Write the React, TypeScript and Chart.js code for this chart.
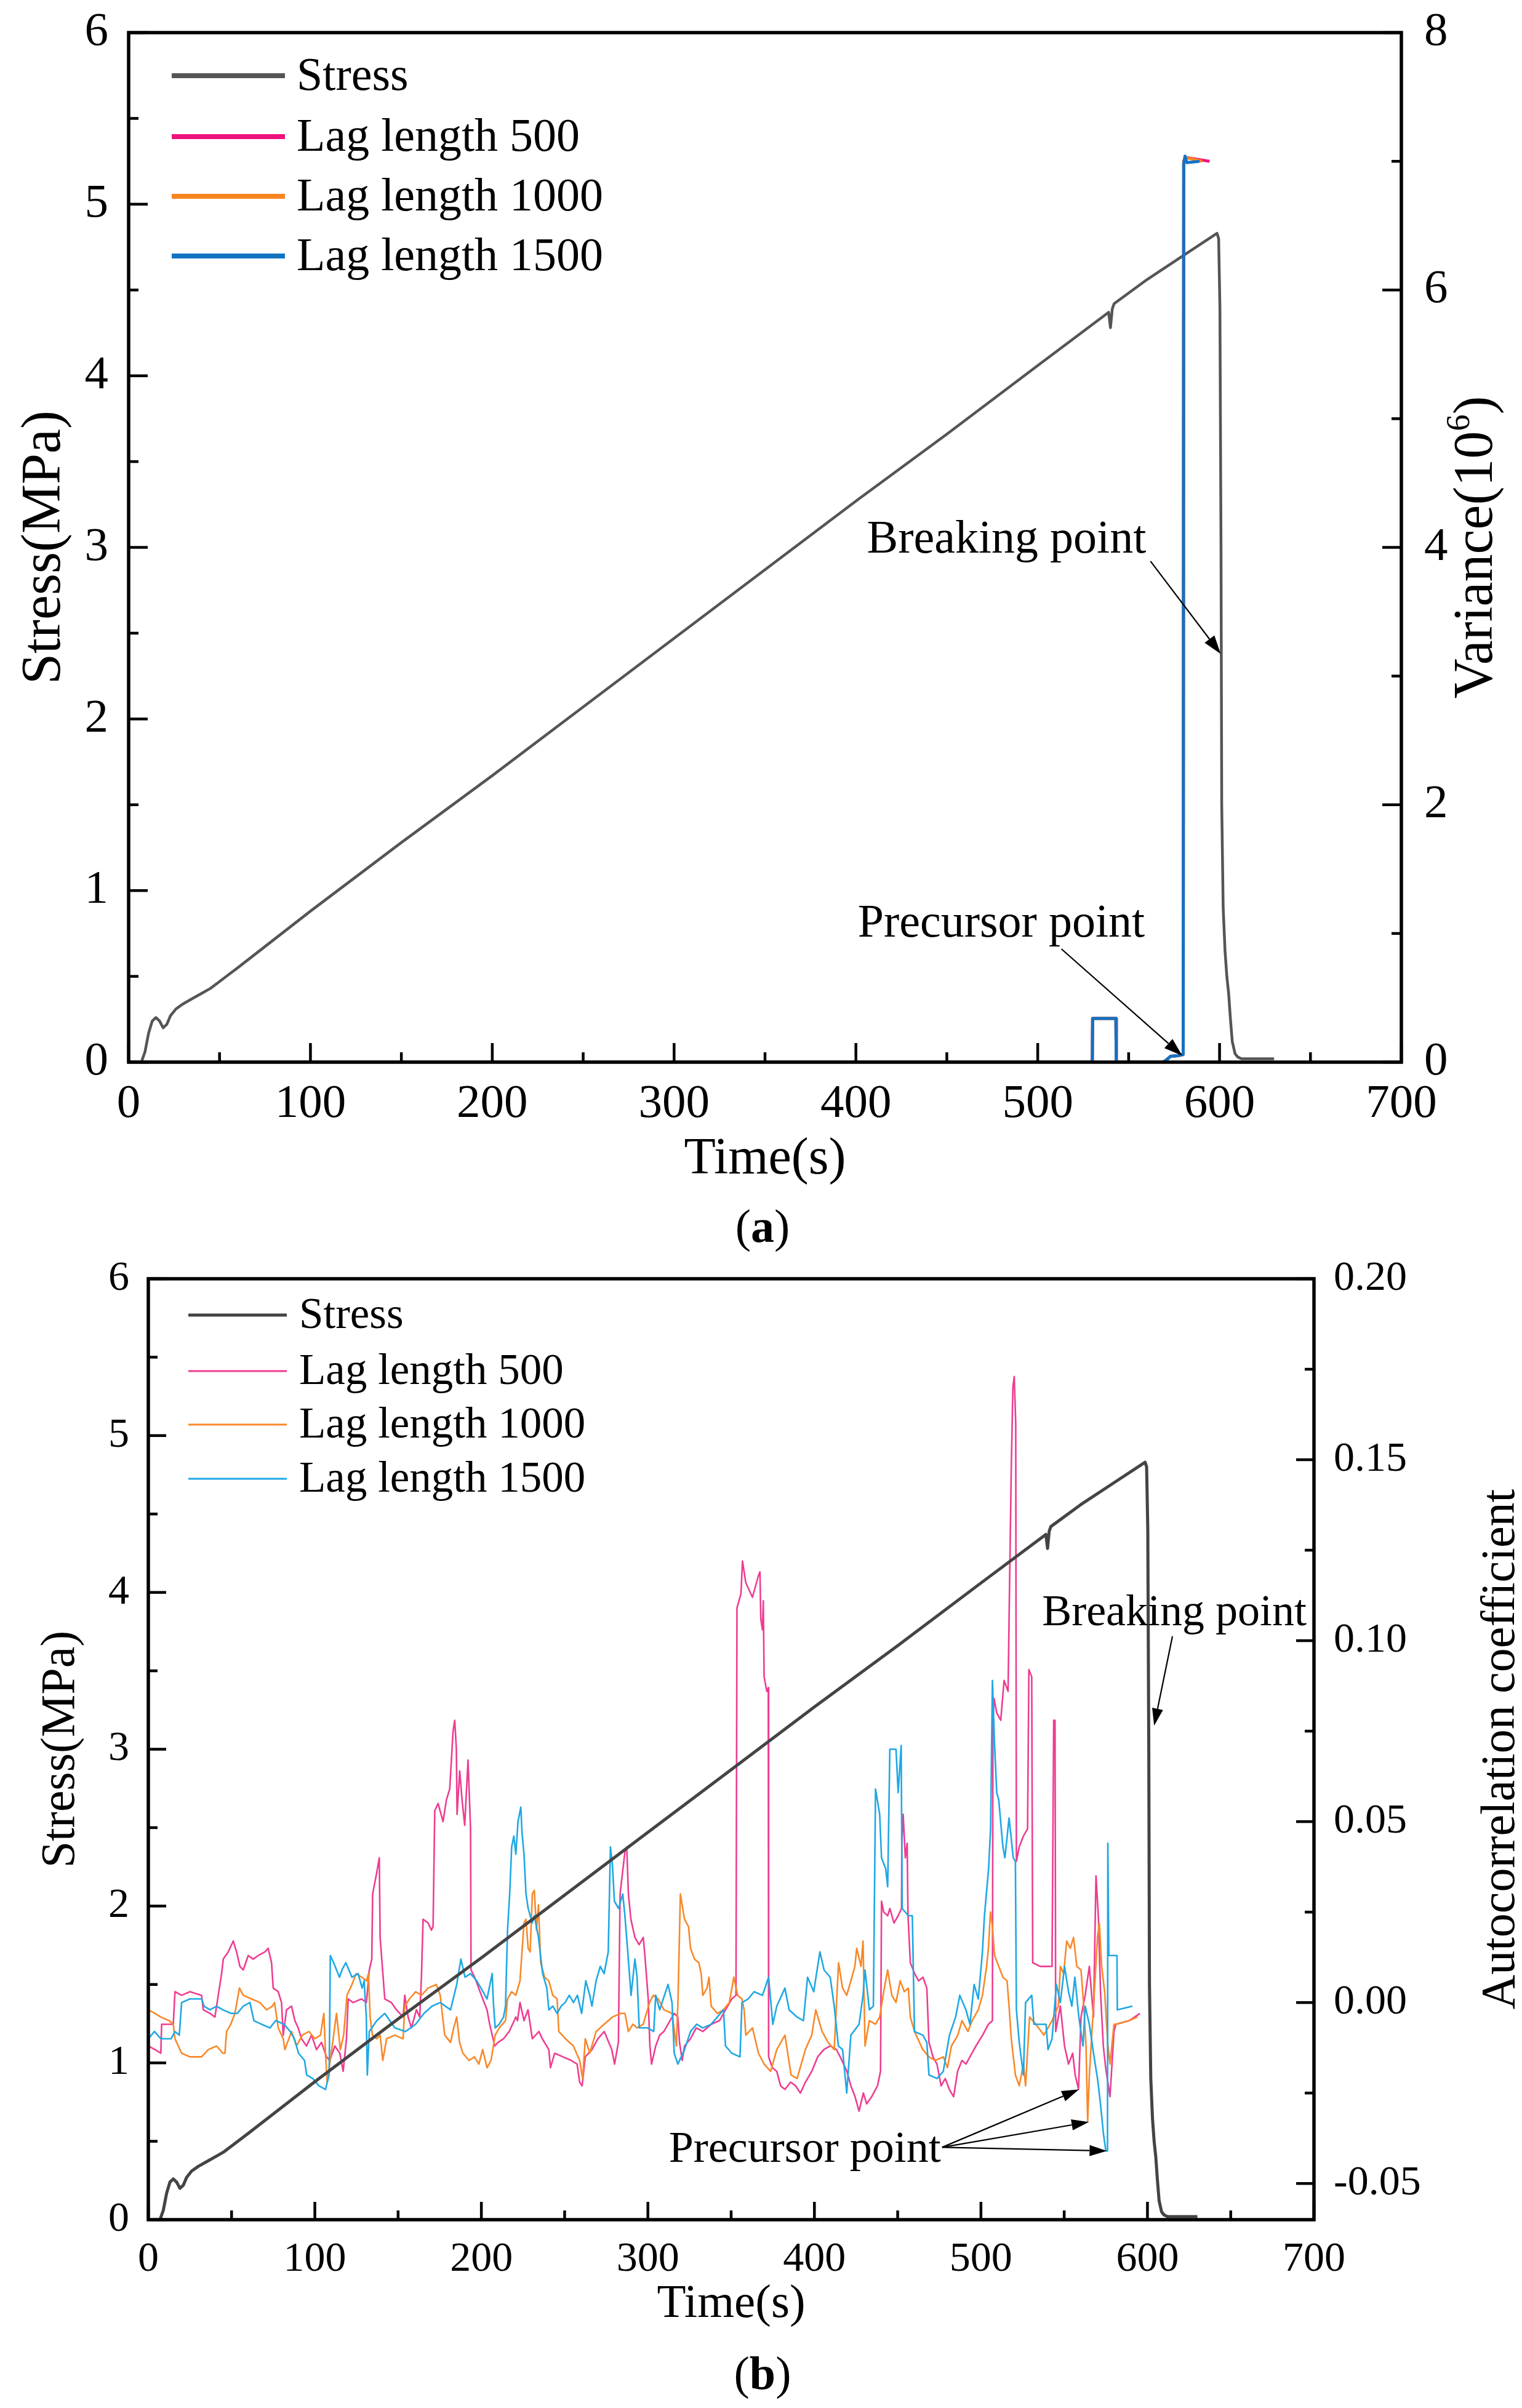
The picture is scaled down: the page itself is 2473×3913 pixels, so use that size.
import React, { useEffect, useRef } from "react";
import { Chart, registerables } from "chart.js";

Chart.register(...registerables);

const SERIF = '"Liberation Serif", "Times New Roman", Times, serif';

type Pt = [number, number];

// ---------------- data ----------------
const seriesNames = ["Stress", "Lag length 500", "Lag length 1000", "Lag length 1500"];

const timeTicks = [0, 100, 200, 300, 400, 500, 600, 700];
const timeMinorTicks = [50, 150, 250, 350, 450, 550, 650];
const stressTicks = [0, 1, 2, 3, 4, 5, 6];
const stressMinorTicks = [0.5, 1.5, 2.5, 3.5, 4.5, 5.5];
const varianceTicks = [0, 2, 4, 6, 8];
const varianceMinorTicks = [1, 3, 5, 7];
const acfTicks = [-0.05, 0, 0.05, 0.1, 0.15, 0.2];
const acfMinorTicks = [-0.025, 0.025, 0.075, 0.125, 0.175];

const stressCurve: Pt[] = [
  [7, 0], [9, 0.06], [11, 0.17], [13, 0.24], [15, 0.26], [17, 0.24], [19, 0.2], [21, 0.22], [23, 0.27],
  [26, 0.31], [30, 0.34], [35, 0.37], [40, 0.4], [45, 0.43], [50, 0.47], [55, 0.51], [60, 0.55],
  [100, 0.88], [150, 1.28], [200, 1.67], [250, 2.07], [300, 2.47], [350, 2.87], [400, 3.27], [450, 3.66],
  [500, 4.06], [539, 4.37], [540, 4.28], [541, 4.39], [542, 4.42], [560, 4.56], [580, 4.7], [598.6, 4.83],
  [599.5, 4.8], [600.2, 4.4], [600.8, 3.0], [601.2, 1.5], [602, 0.9], [603, 0.65], [604, 0.5], [605, 0.4],
  [606, 0.25], [607, 0.12], [608.5, 0.05], [610, 0.03], [612, 0.02], [630, 0.02],
];

const lag500Variance: Pt[] = [
  [0, 0], [530, 0], [530.2, 0.34], [543, 0.34], [543.2, 0], [569, 0], [571, 0.02], [573, 0.045],
  [577, 0.05], [580, 0.06], [580.3, 7.0], [581.5, 7.03], [594.5, 7.0],
];
const lag1000Variance: Pt[] = [
  [0, 0], [530, 0], [530.2, 0.34], [543, 0.34], [543.2, 0], [569, 0], [571, 0.02], [573, 0.045],
  [577, 0.05], [580, 0.06], [580.3, 7.0], [581.5, 7.03], [590.5, 7.0],
];
const lag1500Variance: Pt[] = [
  [0, 0], [530, 0], [530.2, 0.34], [543, 0.34], [543.2, 0], [569, 0], [571, 0.02], [573, 0.045],
  [577, 0.05], [580, 0.06], [580.3, 6.98], [581, 7.04], [582, 6.99], [589, 7.0],
];

const lag500Acf: Pt[] = [
  [0, -0.012], [4, -0.013], [7.5, -0.014], [8, -0.006], [15, -0.006], [16, 0.003], [20, 0.002], [25, 0.003],
  [32, 0.002], [33, -0.002], [37, -0.003], [40, -0.004], [41, -0.001], [44, 0.008], [45, 0.012], [48, 0.014],
  [51, 0.017], [53, 0.014], [55, 0.01], [57, 0.009], [60, 0.013], [63, 0.012], [66, 0.013], [70, 0.014],
  [72, 0.015], [74, 0.011], [75, 0.004], [78, 0.003], [80, 0.0], [81, -0.009], [83, -0.002], [86, -0.001],
  [88, -0.005], [90, -0.007], [92, -0.01], [95, -0.012], [98, -0.009], [101, -0.013], [104, -0.011],
  [107, -0.015], [109, -0.016], [112, -0.012], [115, -0.014], [117, -0.019], [119, -0.01], [120, 0.001],
  [123, 0.0], [128, 0.001], [131, 0.0], [132.7, 0.009], [134.2, 0.012], [134.7, 0.03], [137.2, 0.036],
  [138.7, 0.04], [139.2, 0.018], [142, 0.001], [146, 0.0], [149, -0.002], [153, -0.004], [154, 0.002],
  [156, -0.004], [158, -0.007], [161, -0.002], [163, -0.004], [164, 0.007], [165, 0.023], [168, 0.022],
  [170, 0.02], [171, 0.021], [172, 0.053], [174, 0.055], [177, 0.05], [179, 0.056], [181, 0.059], [183, 0.075],
  [184, 0.078], [185, 0.07], [185.4, 0.052], [187, 0.064], [188.4, 0.056], [190, 0.049], [192, 0.067],
  [193.5, 0.048], [193.8, 0.009], [196, 0.007], [200, 0.002], [203.4, -0.002], [205, -0.006], [208, -0.012],
  [210, -0.011], [213.3, -0.01], [216.7, -0.008], [220.7, -0.004], [221.7, -0.005], [223.2, 0.0],
  [225.6, -0.005], [228, -0.002], [230.6, -0.01], [234.6, -0.008], [236.6, -0.01], [240.5, -0.013],
  [241.5, -0.018], [244, -0.014], [249, -0.015], [254, -0.016], [257.5, -0.017], [259, -0.022],
  [260.5, -0.023], [262.4, -0.015], [266.4, -0.013], [270, -0.01], [273.8, -0.008], [278.3, -0.013],
  [280, -0.017], [282.3, -0.011], [283.3, 0.03], [284.8, 0.036], [286.3, 0.042], [287.3, 0.043],
  [288.3, 0.03], [289.8, 0.023], [292.2, 0.018], [294.7, 0.016], [297.2, 0.018], [298.2, 0.013],
  [300.2, 0.001], [301.2, -0.012], [302.2, -0.017], [304.7, -0.012], [307.1, -0.009], [309.6, -0.008],
  [312.1, -0.006], [315.8, -0.003], [318, -0.004], [319, -0.011], [320.6, -0.016], [322, -0.012],
  [325.6, -0.01], [329, -0.007], [333, -0.008], [338, -0.006], [343, -0.005], [345.4, -0.003],
  [350.4, 0.001], [352.9, 0.002], [353.5, 0.109], [355.9, 0.113], [356.8, 0.122], [358.8, 0.116],
  [362.8, 0.112], [366.4, 0.118], [367.3, 0.119], [367.8, 0.106], [368.8, 0.103], [369.3, 0.111],
  [369.8, 0.09], [371.4, 0.086], [372.3, 0.087], [372.5, -0.015], [374.7, -0.018], [377.4, -0.019],
  [379.7, -0.023], [382.3, -0.024], [385.7, -0.022], [388.7, -0.023], [391.6, -0.025], [394.6, -0.022],
  [398.4, -0.019], [402, -0.015], [405.6, -0.013], [409.5, -0.012], [413.2, -0.013], [415.5, -0.015],
  [419.5, -0.019], [421.9, -0.023], [424.4, -0.026], [426.8, -0.03], [429.4, -0.025], [431.4, -0.028],
  [434.4, -0.026], [437.9, -0.023], [439.7, -0.019], [440.3, 0.028], [441.6, 0.025], [444, 0.024],
  [445.3, 0.026], [447.8, 0.022], [450.3, 0.024], [452.3, 0.026], [452.5, 0.044], [453.3, 0.052],
  [454.6, 0.04], [455.7, 0.044], [456.2, 0.024], [457.6, 0.011], [460.2, 0.008], [462.6, 0.006],
  [465.2, 0.007], [467.5, 0.004], [468.8, -0.011], [471.2, -0.015], [473.6, -0.017], [476.1, -0.023],
  [478.6, -0.021], [481, -0.024], [483.6, -0.026], [486, -0.019], [488.6, -0.016], [491, -0.017],
  [493.4, -0.015], [497, -0.012], [501, -0.009], [504.5, -0.006], [506.9, -0.005], [507.2, 0.078],
  [507.9, 0.084], [509.5, 0.08], [511.9, 0.078], [513.9, 0.089], [516.3, 0.086], [516.9, 0.106],
  [518.2, 0.147], [519.2, 0.17], [520, 0.173], [520.9, 0.16], [521.3, 0.039], [523, 0.043], [525.5, 0.046],
  [528, 0.048], [528.8, 0.092], [530.5, 0.09], [531.1, 0.011], [535.6, 0.01], [542.7, 0.01], [543.7, 0.078],
  [544.5, 0.078], [544.9, -0.008], [547.7, -0.001], [550.2, -0.012], [552.6, -0.017], [555.1, -0.014],
  [556.6, -0.02], [558.6, -0.024], [560.1, -0.004], [562.6, 0.002], [565.1, 0.01], [567.6, -0.004],
  [569.1, 0.035], [570.5, 0.024], [571.8, 0.003], [573.5, -0.012], [574.9, -0.018], [577.5, -0.026],
  [579.9, -0.008], [581.1, -0.006], [589, -0.005], [595.5, -0.003],
];

const lag1000Acf: Pt[] = [
  [0, -0.002], [4, -0.003], [7.5, -0.004], [12.4, -0.005], [15, -0.006], [16, -0.01], [20, -0.014],
  [25, -0.015], [32, -0.015], [36, -0.013], [41, -0.012], [44.7, -0.014], [46, -0.014], [47, -0.008],
  [49.5, -0.006], [52, -0.003], [54.7, 0.004], [57, 0.002], [62, 0.001], [67, 0.0], [71, -0.002],
  [74.5, -0.001], [75.8, 0.0], [78, -0.007], [81, -0.01], [82, -0.013], [86, -0.008], [89, -0.012],
  [92.5, -0.009], [96.5, -0.008], [100, -0.01], [103.4, -0.009], [105.4, -0.003], [106.4, -0.014],
  [107.4, -0.022], [111.3, -0.009], [113, -0.003], [115.3, -0.013], [117.3, -0.009], [119.3, 0.002],
  [122.3, 0.005], [124.8, 0.008], [128.2, 0.007], [131, 0.006], [132.2, 0.008], [133.2, -0.004],
  [134.6, -0.009], [137.2, -0.01], [139.2, -0.009], [140.8, -0.016], [143.1, -0.01], [148, -0.009],
  [153, -0.01], [154, -0.001], [156.8, 0.001], [160.5, 0.003], [164, 0.002], [168, 0.004], [173, 0.005],
  [175.3, 0.002], [176.5, -0.003], [178, -0.009], [181.5, -0.011], [183.4, -0.007], [185.2, -0.004],
  [186.9, -0.011], [188.9, -0.014], [192.6, -0.016], [195.8, -0.015], [198.5, -0.017], [200.8, -0.013],
  [203.4, -0.018], [205.8, -0.016], [208.3, -0.009], [210.7, -0.007], [214.5, -0.005], [215.7, 0.001],
  [218.2, 0.003], [220.7, 0.002], [223.2, 0.006], [225.6, 0.022], [226.8, 0.023], [228.1, 0.015],
  [229.3, 0.014], [230.6, 0.03], [231.8, 0.031], [233.1, 0.02], [234.3, 0.027], [235.6, 0.011],
  [238, 0.007], [240.5, 0.006], [242.9, 0.002], [245.5, 0.001], [246.5, -0.008], [250.5, -0.01],
  [255.3, -0.012], [259, -0.016], [260.8, -0.021], [262.4, -0.01], [265.1, -0.014], [268.9, -0.008],
  [273.7, -0.006], [278.7, -0.004], [283.7, -0.003], [286.2, -0.003], [288.3, -0.008], [291, -0.006],
  [293.5, -0.007], [297.2, -0.006], [301, 0.0], [303.2, 0.002], [306.2, 0.001], [309.6, -0.002],
  [314.5, -0.003], [317.1, -0.012], [318.1, 0.001], [319.5, 0.03], [322, 0.023], [324.4, 0.021],
  [325.6, 0.015], [328, 0.012], [330.6, 0.011], [332, 0.008], [333, 0.002], [335.5, 0.004], [336.7, 0.007],
  [338, -0.001], [341.7, -0.003], [345.4, -0.002], [348.9, 0.0], [351.6, 0.007], [353.9, 0.002],
  [356.5, 0.001], [357.8, -0.002], [358.8, -0.009], [362.8, -0.007], [366.4, -0.014], [369.8, -0.017],
  [373.7, -0.019], [377.4, -0.013], [382.3, -0.009], [386, -0.02], [389.6, -0.021], [394.6, -0.013],
  [398.4, -0.009], [400.8, -0.002], [404.6, -0.008], [408.2, -0.011], [411.9, -0.013], [413.2, -0.001],
  [414.5, 0.011], [416.9, 0.004], [419.4, 0.002], [421.9, 0.006], [424.3, 0.01], [425.4, 0.015],
  [428, 0.01], [429.2, 0.017], [430.4, -0.012], [433, -0.005], [436.7, -0.006], [439.2, -0.004],
  [441.6, 0.003], [444, 0.009], [446.5, 0.002], [449, 0.0], [451.5, 0.006], [454, 0.003], [456.4, 0.004],
  [457.6, -0.004], [460.1, -0.008], [465.1, -0.013], [468.8, -0.015], [472.4, -0.016], [477.4, -0.015],
  [479.9, -0.018], [482.3, -0.012], [486.1, -0.009], [488.6, -0.005], [492.2, -0.008], [494.7, -0.005],
  [498.4, -0.002], [500.9, 0.002], [503.4, 0.01], [504.5, 0.015], [505.7, 0.025], [506.9, 0.021],
  [508.2, 0.013], [510.7, 0.01], [513.2, 0.007], [515.7, 0.006], [516.9, -0.001], [518.2, -0.01],
  [520.7, -0.02], [523, -0.023], [525.5, -0.017], [526.8, -0.023], [529.2, -0.004], [533, -0.006],
  [537.8, -0.009], [542.7, -0.005], [546.5, -0.001], [547.7, 0.01], [549.7, 0.008], [551.5, 0.017],
  [553.7, 0.015], [555.6, 0.018], [557.6, 0.01], [560.1, 0.009], [561.9, -0.002], [563.1, -0.012],
  [564.1, -0.033], [565.1, -0.02], [567.6, -0.001], [570, 0.018], [571.1, 0.022], [572.5, 0.01],
  [574.3, 0.003], [576.1, -0.011], [577.5, -0.017], [579.9, -0.006], [581.1, -0.006], [589, -0.005],
  [594, -0.004],
];

const lag1500Acf: Pt[] = [
  [0, -0.01], [3.7, -0.008], [7.5, -0.01], [13.7, -0.01], [16, -0.008], [18.6, -0.009], [20, 0.0],
  [25, 0.001], [32, 0.001], [33.5, -0.001], [37, -0.002], [41, -0.001], [44.7, -0.002], [49.7, -0.003],
  [53.4, -0.003], [57, -0.001], [61, 0.0], [63.4, -0.005], [68, -0.006], [73, -0.007], [76.5, -0.005],
  [81.5, -0.006], [85.2, -0.008], [87.7, -0.01], [90.2, -0.014], [93.8, -0.016], [95.1, -0.02],
  [98.8, -0.021], [102.4, -0.023], [106.4, -0.024], [108.6, -0.02], [109.3, 0.013], [111.3, 0.011],
  [114.8, 0.007], [116.3, 0.009], [118.6, 0.011], [122.3, 0.007], [126, 0.008], [128.4, 0.004],
  [129.6, 0.006], [130.9, -0.004], [131.5, -0.02], [132.7, -0.008], [137.2, -0.005], [142, -0.003],
  [148, -0.007], [154.4, -0.008], [160.5, -0.006], [165.5, -0.003], [170.4, -0.001], [175.3, 0.0],
  [181.5, -0.002], [185.2, 0.005], [187.7, 0.012], [190.2, 0.007], [193.5, 0.008], [197.2, 0.006],
  [199.8, 0.004], [203.4, 0.001], [206.5, 0.008], [207.2, 0.0], [208.3, -0.007], [210.7, -0.006],
  [213.3, -0.004], [214.5, -0.001], [215.7, 0.02], [217, 0.03], [218.2, 0.043], [219.5, 0.046],
  [220.7, 0.041], [222, 0.05], [223.7, 0.054], [224.4, 0.047], [225.6, 0.041], [226.8, 0.03],
  [228.1, 0.026], [230.6, 0.022], [231.8, 0.024], [234.3, 0.018], [236.8, 0.008], [239.3, 0.004],
  [240.5, -0.002], [242.9, -0.001], [245.5, -0.003], [247.9, -0.001], [250.3, 0.0], [252.8, 0.002],
  [255.3, 0.0], [257.7, 0.002], [260.2, -0.003], [262.7, 0.006], [265.1, 0.002], [266.4, -0.001],
  [268.9, 0.006], [271.4, 0.01], [273.7, 0.008], [276.2, 0.014], [277.5, 0.043], [278.7, 0.038],
  [279.9, 0.028], [282.4, 0.026], [284.9, 0.03], [286.2, 0.024], [287.4, 0.017], [289.9, 0.002],
  [292.2, 0.012], [293.5, 0.007], [294.8, -0.007], [299.7, -0.007], [303.5, -0.008], [304.7, 0.002],
  [307.1, -0.002], [312.1, 0.005], [314.5, 0.0], [315.8, -0.014], [318, -0.017], [322, -0.013],
  [325.6, -0.008], [329.3, -0.006], [333, -0.007], [338, -0.006], [341.7, -0.004], [345.4, -0.002],
  [346.6, -0.012], [350.4, -0.014], [355.3, -0.015], [356.5, 0.0], [360.2, 0.001], [363.8, 0.003],
  [368.8, 0.002], [372.5, 0.007], [375, -0.006], [377.4, -0.001], [382.3, 0.004], [384.8, -0.002],
  [389.6, -0.004], [393.4, -0.005], [395.9, 0.007], [399.6, 0.003], [403.3, 0.014], [405.8, 0.009],
  [409.5, 0.007], [411.9, -0.001], [414.4, -0.012], [416.9, -0.013], [419.4, -0.025], [421.9, -0.009],
  [426.8, -0.006], [429.2, 0.002], [430.4, 0.009], [433, -0.002], [435.4, -0.001], [436.7, 0.059],
  [439.2, 0.052], [440.3, 0.04], [442.8, 0.037], [444, 0.032], [445.3, 0.07], [449, 0.07], [450.3, 0.058],
  [452.1, 0.071], [452.7, 0.026], [456.4, 0.024], [458.8, 0.024], [460.1, -0.008], [465.1, -0.009],
  [467.5, -0.011], [468.8, -0.02], [473.6, -0.021], [477.4, -0.019], [481.1, -0.009], [484.8, -0.004],
  [487.3, 0.002], [491, -0.002], [493.4, -0.006], [495.9, 0.005], [498.4, 0.001], [500.9, 0.014],
  [502.1, 0.024], [504.6, 0.037], [505.8, 0.048], [506.9, 0.089], [508.2, 0.071], [509.5, 0.058],
  [510.7, 0.056], [513.2, 0.043], [514.4, 0.04], [516.9, 0.051], [519.4, 0.04], [520.7, 0.039],
  [521.3, -0.002], [523, -0.011], [525.5, -0.02], [526.8, 0.0], [530.5, 0.002], [531.8, -0.006],
  [539.1, -0.006], [540.3, -0.013], [542.7, -0.01], [545.3, 0.005], [547.7, 0.0], [550.2, 0.01],
  [552.6, 0.003], [554.6, -0.001], [556.4, 0.007], [558.8, -0.004], [561.3, -0.012], [562.6, -0.001],
  [565.1, -0.006], [567.6, -0.014], [570, -0.021], [571.8, -0.028], [573.5, -0.036], [575, -0.041],
  [576, -0.041], [576.2, 0.044], [576.8, 0.013], [581.7, 0.013], [581.9, -0.002], [591, -0.001],
];

// ---------------- helpers ----------------
const xy = (pts: Pt[]) => pts.map(([x, y]) => ({ x, y }));
const setTicks = (values: number[]) => (scale: any) => {
  scale.ticks = values.map((v) => ({ value: v }));
};
const fixBox = (dim: "width" | "height", size: number) => (s: any) => {
  s[dim] = size;
  s.paddingTop = 0;
  s.paddingBottom = 0;
  s.paddingLeft = 0;
  s.paddingRight = 0;
};

type TickSpec = { axis: string; side: "left" | "right" | "bottom"; major: number[]; minor: number[] };
type Note = { text: string; x: number; y: number; axis: string };
type Arrow = { x1: number; y1: number; a1: string; x2: number; y2: number; a2: string };
type Part = { t: string; k: number; raise: number };

type Decor = {
  id: string;
  frameWidth: number;
  tickWidth: number;
  majorLen: number;
  minorLen: number;
  ticks: TickSpec[];
  legend: {
    lineFrom: number;
    lineTo: number;
    textAt: number;
    rows: number[];
    fontSize: number;
    items: { label: string; color: string; width: number }[];
  };
  rightTitle: { parts: Part[]; x: number; fontSize: number };
  notes: Note[];
  noteSize: number;
  arrows: Arrow[];
  arrowWidth: number;
  headLen: number;
  headHalf: number;
  panel: { letter: string; x: number; y: number; fontSize: number };
};

function drawArrow(ctx: CanvasRenderingContext2D, x1: number, y1: number, x2: number, y2: number, lw: number, hl: number, hw: number) {
  const a = Math.atan2(y2 - y1, x2 - x1);
  const bx = x2 - hl * Math.cos(a);
  const by = y2 - hl * Math.sin(a);
  ctx.lineWidth = lw;
  ctx.beginPath();
  ctx.moveTo(x1, y1);
  ctx.lineTo(bx, by);
  ctx.stroke();
  ctx.beginPath();
  ctx.moveTo(x2, y2);
  ctx.lineTo(bx + hw * Math.sin(a), by - hw * Math.cos(a));
  ctx.lineTo(bx - hw * Math.sin(a), by + hw * Math.cos(a));
  ctx.closePath();
  ctx.fill();
}

function decorPlugin(d: Decor) {
  return {
    id: d.id,
    afterDraw(chart: any) {
      const { ctx, chartArea: ca, scales } = chart;
      ctx.save();
      ctx.strokeStyle = "#000";
      ctx.fillStyle = "#000";

      // inward ticks
      ctx.lineWidth = d.tickWidth;
      ctx.lineCap = "butt";
      for (const t of d.ticks) {
        const sc = scales[t.axis];
        const one = (v: number, len: number) => {
          const p = sc.getPixelForValue(v);
          ctx.beginPath();
          if (t.side === "bottom") {
            ctx.moveTo(p, ca.bottom);
            ctx.lineTo(p, ca.bottom - len);
          } else if (t.side === "left") {
            ctx.moveTo(ca.left, p);
            ctx.lineTo(ca.left + len, p);
          } else {
            ctx.moveTo(ca.right, p);
            ctx.lineTo(ca.right - len, p);
          }
          ctx.stroke();
        };
        t.major.forEach((v) => one(v, d.majorLen));
        t.minor.forEach((v) => one(v, d.minorLen));
      }

      // frame
      ctx.lineWidth = d.frameWidth;
      ctx.lineJoin = "miter";
      ctx.strokeRect(ca.left, ca.top, ca.right - ca.left, ca.bottom - ca.top);

      // legend
      const lg = d.legend;
      ctx.font = `${lg.fontSize}px ${SERIF}`;
      ctx.textAlign = "left";
      ctx.textBaseline = "middle";
      lg.items.forEach((it, i) => {
        const y = ca.top + lg.rows[i];
        ctx.strokeStyle = it.color;
        ctx.lineWidth = it.width;
        ctx.beginPath();
        ctx.moveTo(ca.left + lg.lineFrom, y);
        ctx.lineTo(ca.left + lg.lineTo, y);
        ctx.stroke();
        ctx.fillStyle = "#000";
        ctx.fillText(it.label, ca.left + lg.textAt, y + lg.fontSize * 0.04);
      });
      ctx.strokeStyle = "#000";
      ctx.fillStyle = "#000";

      // right axis title (reads bottom to top)
      const rt = d.rightTitle;
      const widths = rt.parts.map((p) => {
        ctx.font = `${rt.fontSize * p.k}px ${SERIF}`;
        return ctx.measureText(p.t).width;
      });
      const total = widths.reduce((s, w) => s + w, 0);
      ctx.save();
      ctx.translate(rt.x, (ca.top + ca.bottom) / 2);
      ctx.rotate(-Math.PI / 2);
      ctx.textBaseline = "middle";
      ctx.textAlign = "left";
      let cx = -total / 2;
      rt.parts.forEach((p, i) => {
        ctx.font = `${rt.fontSize * p.k}px ${SERIF}`;
        ctx.fillText(p.t, cx, -p.raise * rt.fontSize);
        cx += widths[i];
      });
      ctx.restore();

      // annotations
      ctx.font = `${d.noteSize}px ${SERIF}`;
      ctx.textAlign = "left";
      ctx.textBaseline = "alphabetic";
      for (const n of d.notes) {
        ctx.fillText(n.text, scales.x.getPixelForValue(n.x), scales[n.axis].getPixelForValue(n.y));
      }
      for (const a of d.arrows) {
        drawArrow(
          ctx,
          scales.x.getPixelForValue(a.x1),
          scales[a.a1].getPixelForValue(a.y1),
          scales.x.getPixelForValue(a.x2),
          scales[a.a2].getPixelForValue(a.y2),
          d.arrowWidth,
          d.headLen,
          d.headHalf
        );
      }

      // panel letter "(a)" / "(b)"
      const pn = d.panel;
      const reg = `${pn.fontSize}px ${SERIF}`;
      const bold = `bold ${pn.fontSize}px ${SERIF}`;
      ctx.font = reg;
      const wl = ctx.measureText("(").width;
      const wr = ctx.measureText(")").width;
      ctx.font = bold;
      const wm = ctx.measureText(pn.letter).width;
      let px = pn.x - (wl + wm + wr) / 2;
      ctx.textBaseline = "middle";
      ctx.font = reg;
      ctx.fillText("(", px, pn.y);
      px += wl;
      ctx.font = bold;
      ctx.fillText(pn.letter, px, pn.y);
      px += wm;
      ctx.font = reg;
      ctx.fillText(")", px, pn.y);

      ctx.restore();
    },
  };
}

const GRAY_A = "#555555";
const PINK_A = "#F0127C";
const ORANGE_A = "#F7841F";
const BLUE_A = "#1372C4";
const GRAY_B = "#444444";
const PINK_B = "#EE3D91";
const ORANGE_B = "#F8892A";
const BLUE_B = "#1FA8E4";

function lineSet(label: string, pts: Pt[], axis: string, color: string, width: number, order: number) {
  return {
    label,
    data: xy(pts),
    yAxisID: axis,
    borderColor: color,
    backgroundColor: color,
    borderWidth: width,
    pointRadius: 0,
    tension: 0,
    fill: false,
    order,
    borderJoinStyle: "round",
  };
}

function tickFont(size: number) {
  return { family: SERIF, size, weight: "normal" };
}

function buildConfigA(): any {
  return {
    type: "line",
    data: {
      datasets: [
        lineSet(seriesNames[0], stressCurve, "y", GRAY_A, 4.5, 3),
        lineSet(seriesNames[1], lag500Variance, "y2", PINK_A, 5, 2),
        lineSet(seriesNames[2], lag1000Variance, "y2", ORANGE_A, 5, 1),
        lineSet(seriesNames[3], lag1500Variance, "y2", BLUE_A, 5, 0),
      ],
    },
    options: {
      responsive: false,
      animation: false,
      devicePixelRatio: 1,
      events: [],
      layout: { padding: { top: 53, bottom: 94, left: 0, right: 0 } },
      plugins: { legend: { display: false }, tooltip: { enabled: false } },
      scales: {
        x: {
          type: "linear",
          position: "bottom",
          min: 0,
          max: 700,
          afterBuildTicks: setTicks(timeTicks),
          afterFit: fixBox("height", 230),
          grid: { display: false, drawTicks: false },
          border: { display: false },
          ticks: { color: "#000", font: tickFont(77), padding: 23, maxRotation: 0, minRotation: 0, autoSkip: false },
          title: { display: true, text: "Time(s)", color: "#000", font: tickFont(84), padding: { top: 0, bottom: 21 } },
        },
        y: {
          type: "linear",
          position: "left",
          min: 0,
          max: 6,
          afterBuildTicks: setTicks(stressTicks),
          afterFit: fixBox("width", 209),
          grid: { display: false, drawTicks: false },
          border: { display: false },
          ticks: { color: "#000", font: tickFont(77), padding: 33, autoSkip: false },
          title: { display: true, text: "Stress(MPa)", color: "#000", font: tickFont(90), padding: { top: 19, bottom: 0 } },
        },
        y2: {
          type: "linear",
          position: "right",
          min: 0,
          max: 8,
          afterBuildTicks: setTicks(varianceTicks),
          afterFit: fixBox("width", 196),
          grid: { display: false, drawTicks: false },
          border: { display: false },
          ticks: { color: "#000", font: tickFont(77), padding: 37, autoSkip: false },
          title: { display: false },
        },
      },
    },
    plugins: [
      decorPlugin({
        id: "decorA",
        frameWidth: 5.5,
        tickWidth: 4.5,
        majorLen: 31,
        minorLen: 16,
        ticks: [
          { axis: "x", side: "bottom", major: timeTicks, minor: timeMinorTicks },
          { axis: "y", side: "left", major: stressTicks, minor: stressMinorTicks },
          { axis: "y2", side: "right", major: varianceTicks, minor: varianceMinorTicks },
        ],
        legend: {
          lineFrom: 70,
          lineTo: 254,
          textAt: 273,
          rows: [70, 169, 266, 363],
          fontSize: 76,
          items: [
            { label: seriesNames[0], color: GRAY_A, width: 8 },
            { label: seriesNames[1], color: PINK_A, width: 8 },
            { label: seriesNames[2], color: ORANGE_A, width: 8 },
            { label: seriesNames[3], color: BLUE_A, width: 8 },
          ],
        },
        rightTitle: {
          parts: [
            { t: "Variance(10", k: 1, raise: 0 },
            { t: "6", k: 0.6, raise: 0.3 },
            { t: ")", k: 1, raise: 0 },
          ],
          x: 2400,
          fontSize: 90,
        },
        notes: [
          { text: "Breaking point", x: 406, y: 2.97, axis: "y" },
          { text: "Precursor point", x: 401, y: 0.73, axis: "y" },
        ],
        noteSize: 76,
        arrows: [
          { x1: 562, y1: 2.92, a1: "y", x2: 600.6, y2: 2.38, a2: "y" },
          { x1: 513, y1: 0.66, a1: "y", x2: 579.5, y2: 0.05, a2: "y2" },
        ],
        arrowWidth: 2.2,
        headLen: 30,
        headHalf: 10,
        panel: { letter: "a", x: 1239, y: 1998, fontSize: 76 },
      }),
    ],
  };
}

function buildConfigB(): any {
  return {
    type: "line",
    data: {
      datasets: [
        lineSet(seriesNames[0], stressCurve, "y", GRAY_B, 5, 0),
        lineSet(seriesNames[1], lag500Acf, "y2", PINK_B, 2.6, 3),
        lineSet(seriesNames[2], lag1000Acf, "y2", ORANGE_B, 2.6, 2),
        lineSet(seriesNames[3], lag1500Acf, "y2", BLUE_B, 2.6, 1),
      ],
    },
    options: {
      responsive: false,
      animation: false,
      devicePixelRatio: 1,
      events: [],
      layout: { padding: { top: 28, bottom: 106, left: 0, right: 0 } },
      plugins: { legend: { display: false }, tooltip: { enabled: false } },
      scales: {
        x: {
          type: "linear",
          position: "bottom",
          min: 0,
          max: 700,
          afterBuildTicks: setTicks(timeTicks),
          afterFit: fixBox("height", 200),
          grid: { display: false, drawTicks: false },
          border: { display: false },
          ticks: { color: "#000", font: tickFont(68), padding: 24, maxRotation: 0, minRotation: 0, autoSkip: false },
          title: { display: true, text: "Time(s)", color: "#000", font: tickFont(77), padding: { top: 0, bottom: 16 } },
        },
        y: {
          type: "linear",
          position: "left",
          min: 0,
          max: 6,
          afterBuildTicks: setTicks(stressTicks),
          afterFit: fixBox("width", 241),
          grid: { display: false, drawTicks: false },
          border: { display: false },
          ticks: { color: "#000", font: tickFont(68), padding: 31, autoSkip: false },
          title: { display: true, text: "Stress(MPa)", color: "#000", font: tickFont(78), padding: { top: 53, bottom: 0 } },
        },
        y2: {
          type: "linear",
          position: "right",
          min: -0.06,
          max: 0.2,
          afterBuildTicks: setTicks(acfTicks),
          afterFit: fixBox("width", 338),
          grid: { display: false, drawTicks: false },
          border: { display: false },
          ticks: {
            color: "#000",
            font: tickFont(68),
            padding: 32,
            autoSkip: false,
            callback: (v: number) => v.toFixed(2),
          },
          title: { display: false },
        },
      },
    },
    plugins: [
      decorPlugin({
        id: "decorB",
        frameWidth: 5.5,
        tickWidth: 4.5,
        majorLen: 29,
        minorLen: 15,
        ticks: [
          { axis: "x", side: "bottom", major: timeTicks, minor: timeMinorTicks },
          { axis: "y", side: "left", major: stressTicks, minor: stressMinorTicks },
          { axis: "y2", side: "right", major: acfTicks, minor: acfMinorTicks },
        ],
        legend: {
          lineFrom: 65,
          lineTo: 225,
          textAt: 245,
          rows: [59, 150, 237, 325],
          fontSize: 71,
          items: [
            { label: seriesNames[0], color: GRAY_B, width: 5 },
            { label: seriesNames[1], color: PINK_B, width: 3 },
            { label: seriesNames[2], color: ORANGE_B, width: 3 },
            { label: seriesNames[3], color: BLUE_B, width: 3 },
          ],
        },
        rightTitle: {
          parts: [{ t: "Autocorrelation coefficient", k: 1, raise: 0 }],
          x: 2440,
          fontSize: 78,
        },
        notes: [
          { text: "Breaking point", x: 536.7, y: 3.79, axis: "y" },
          { text: "Precursor point", x: 312.6, y: -0.044, axis: "y2" },
        ],
        noteSize: 72,
        arrows: [
          { x1: 615, y1: 3.72, a1: "y", x2: 604, y2: 3.15, a2: "y" },
          { x1: 476.7, y1: -0.04, a1: "y2", x2: 558.9, y2: -0.024, a2: "y2" },
          { x1: 476.7, y1: -0.04, a1: "y2", x2: 564.8, y2: -0.033, a2: "y2" },
          { x1: 476.7, y1: -0.04, a1: "y2", x2: 575.6, y2: -0.041, a2: "y2" },
        ],
        arrowWidth: 2.2,
        headLen: 28,
        headHalf: 9,
        panel: { letter: "b", x: 1239, y: 1812, fontSize: 76 },
      }),
    ],
  };
}

function ChartCanvas({ build, top, height }: { build: () => any; top: number; height: number }) {
  const ref = useRef<HTMLCanvasElement | null>(null);
  useEffect(() => {
    const chart = new Chart(ref.current as HTMLCanvasElement, build());
    return () => {
      chart.destroy();
    };
  }, []);
  return (
    <canvas
      ref={ref}
      width={2473}
      height={height}
      style={{ position: "absolute", left: 0, top, width: 2473, height, display: "block" }}
    />
  );
}

export default function App() {
  return (
    <div
      style={{
        position: "absolute",
        left: 0,
        top: 0,
        width: 2473,
        height: 3913,
        overflow: "hidden",
        background: "#ffffff",
      }}
    >
      <ChartCanvas build={buildConfigA} top={0} height={2050} />
      <ChartCanvas build={buildConfigB} top={2050} height={1863} />
    </div>
  );
}
